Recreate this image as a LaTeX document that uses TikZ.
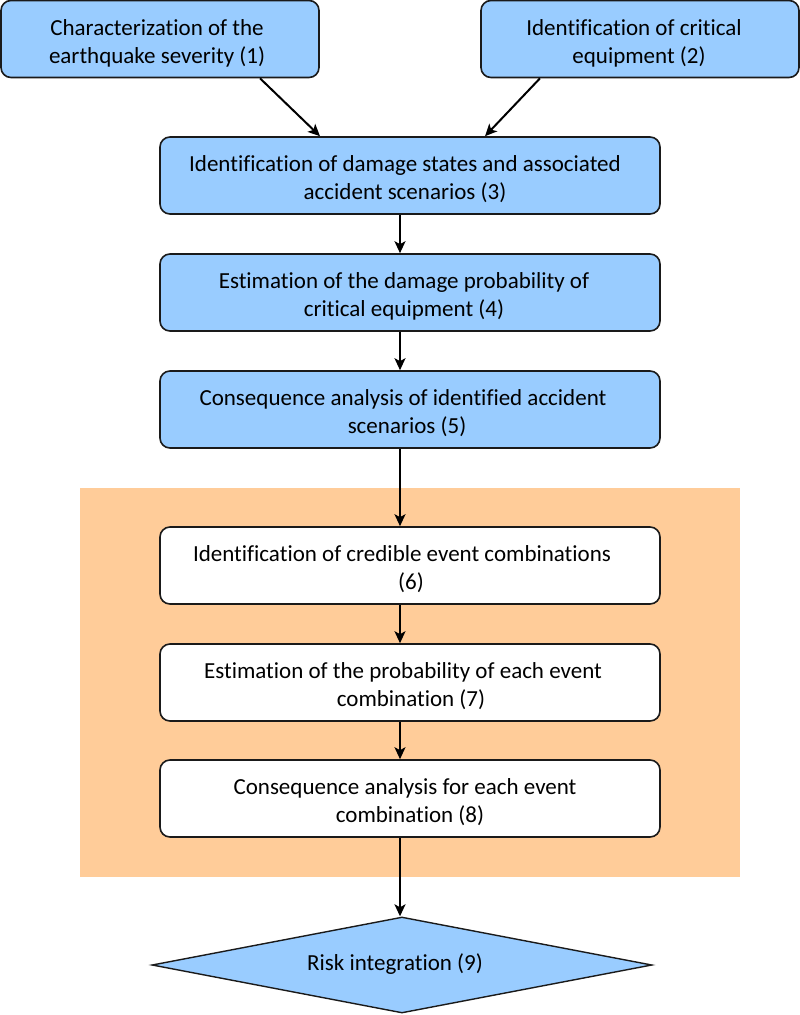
\documentclass[tikz,border=0pt]{standalone}
\usepackage{fontspec}
\setmainfont[Ligatures={NoCommon}]{Carlito}
\usetikzlibrary{shapes.geometric,arrows.meta}
\definecolor{boxblue}{HTML}{99CCFF}
\definecolor{bgorange}{HTML}{FFCC99}
\definecolor{edge}{HTML}{1A1A1A}
\begin{document}
\begin{tikzpicture}[x=1pt,y=-1pt,
  every node/.style={font=\fontsize{23pt}{28pt}\selectfont, align=center, inner sep=0pt},
  procbox/.style={draw=edge, line width=1.6pt, rounded corners=10pt, minimum height=77pt},
  bluebox/.style={procbox, fill=boxblue},
  whitebox/.style={procbox, fill=white},
  txt/.style={label={[xshift=#1, yshift=-4pt]center:{\usebox0}}},
  flow/.style={draw=black, line width=2pt, -{Stealth[length=12pt,width=11pt,inset=3pt]}},
]
\useasboundingbox (0,0) rectangle (800,1015);
\fill[bgorange] (80,488) rectangle (740,877);

\node[bluebox, minimum width=318pt,
  label={[xshift=-3pt, yshift=-4pt]center:{Characterization of the\\earthquake severity (1)}}] (b1) at (160,39) {};
\node[bluebox, minimum width=318pt,
  label={[xshift=-6pt, yshift=-4pt]center:{Identification of critical\\\hspace*{10pt}equipment (2)}}] (b2) at (640,39) {};
\node[bluebox, minimum width=500pt,
  label={[xshift=-5pt, yshift=-4pt]center:{Identification of damage states and associated\\accident scenarios (3)}}] (b3) at (410,175.5) {};
\node[bluebox, minimum width=500pt,
  label={[xshift=-6pt, yshift=-4pt]center:{Estimation of the damage probability of\\critical equipment (4)}}] (b4) at (410,292.5) {};
\node[bluebox, minimum width=500pt,
  label={[xshift=-7pt, yshift=-4pt]center:{Consequence analysis of identified accident\\\hspace*{8pt}scenarios (5)}}] (b5) at (410,409.5) {};
\node[whitebox, minimum width=500pt,
  label={[xshift=-8pt, yshift=-4pt]center:{Identification of credible event combinations\\\hspace*{18pt}(6)}}] (b6) at (410,565.5) {};
\node[whitebox, minimum width=500pt,
  label={[xshift=-7pt, yshift=-4pt]center:{Estimation of the probability of each event\\\hspace*{16pt}combination (7)}}] (b7) at (410,682.5) {};
\node[whitebox, minimum width=500pt,
  label={[xshift=-5pt, yshift=-4pt]center:{Consequence analysis for each event\\\hspace*{10pt}combination (8)}}] (b8) at (410,798.5) {};
\node[diamond, draw=edge, line width=1.4pt, fill=boxblue, minimum width=500pt, minimum height=96pt, shape aspect=5.2,
  label={[xshift=-7pt, yshift=1pt]center:{Risk integration (9)}}] (b9) at (402,965) {};

\draw[flow] ([xshift=100pt]b1.south) -- ([xshift=-90pt]b3.north);
\draw[flow] ([xshift=-100pt]b2.south) -- ([xshift=75pt]b3.north);
\draw[flow] ([xshift=-10pt]b3.south) -- ([xshift=-10pt]b4.north);
\draw[flow] ([xshift=-10pt]b4.south) -- ([xshift=-10pt]b5.north);
\draw[flow] ([xshift=-10pt]b5.south) -- ([xshift=-10pt]b6.north);
\draw[flow] ([xshift=-10pt]b6.south) -- ([xshift=-10pt]b7.north);
\draw[flow] ([xshift=-10pt]b7.south) -- ([xshift=-10pt]b8.north);
\draw[flow] ([xshift=-10pt]b8.south) -- ([xshift=-10pt]b8.south |- b9.north);
\end{tikzpicture}
\end{document}
